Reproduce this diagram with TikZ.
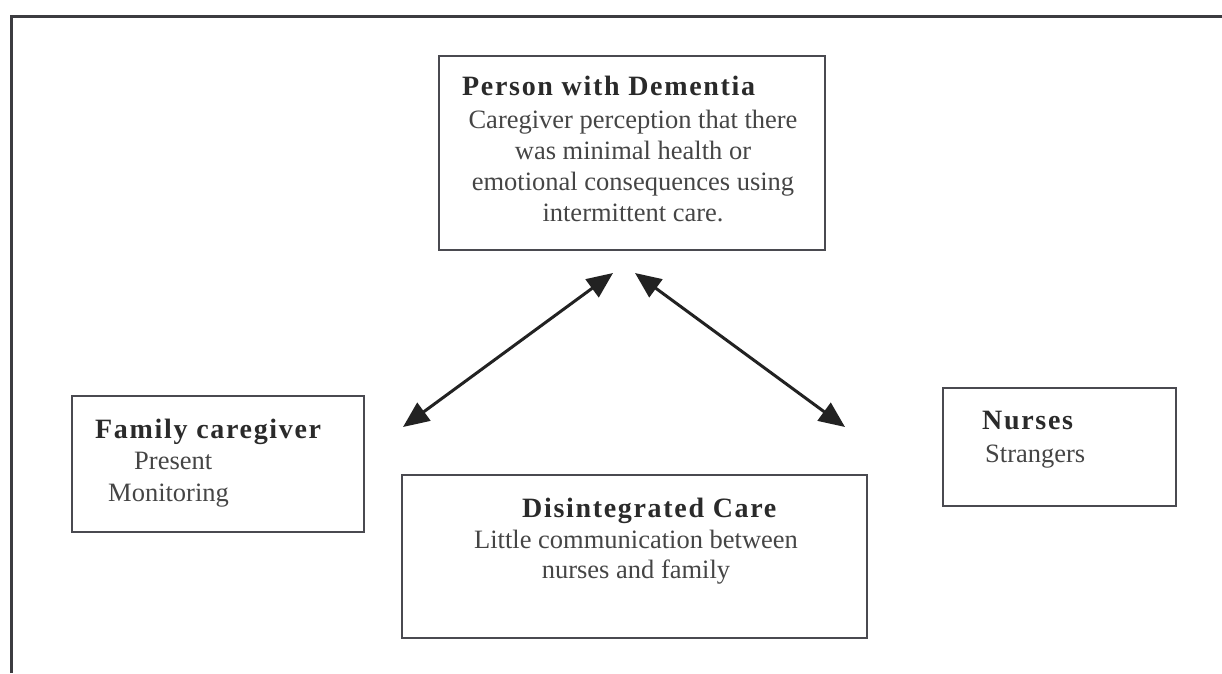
\documentclass[tikz,border=0pt]{standalone}
\usepackage{fontspec}
\setmainfont{Liberation Serif}
\usepackage{xcolor}
\usetikzlibrary{arrows.meta,positioning}

\definecolor{framegray}{HTML}{3C3C40}
\definecolor{boxgray}{HTML}{4A4A50}
\definecolor{headgray}{HTML}{2A2A2A}
\definecolor{bodygray}{HTML}{454545}
\definecolor{arrowgray}{HTML}{222222}

\tikzset{
  frame/.style={draw=framegray, line width=3pt},
  box/.style={draw=boxgray, line width=2.5pt, inner sep=0pt},
  head/.style={font=\fontsize{28}{30}\selectfont\bfseries\addfontfeature{LetterSpace=6}, text=headgray, inner sep=0pt},
  body/.style={font=\fontsize{26.5}{31}\selectfont, text=bodygray, inner sep=0pt},
  link/.style={line width=3pt, draw=arrowgray, fill=arrowgray,
    {Triangle[length=26pt,width=22pt]}-{Triangle[length=26pt,width=22pt]}},
}

\begin{document}
\begin{tikzpicture}[x=1pt, y=-1pt]
    \useasboundingbox (0,0) rectangle (1222,673);
    \draw [frame] (11,673) -- (11,16) -- (1222,16);

    % boxes
    \node [box, minimum width=386pt, minimum height=194pt] (pwd) at (632,153) {};
    \node [box, minimum width=292pt, minimum height=136pt] (fam) at (218,464) {};
    \node [box, minimum width=233pt, minimum height=118pt] (nur) at (1059.5,447) {};
    \node [box, minimum width=465pt, minimum height=163pt] (dis) at (634.5,556.5) {};

    % person with dementia
    \node [head, anchor=base west] (pwdTitle) at (462,95) {Person with Dementia};
    \node [body, anchor=base] (pwdL1) at (633,128) {Caregiver perception that there};
    \node [body, anchor=base] (pwdL2) at (633,159) {was minimal health or};
    \node [body, anchor=base] (pwdL3) at (633,190) {emotional consequences using};
    \node [body, anchor=base] (pwdL4) at (633,221) {intermittent care.};

    % family caregiver
    \node [head, anchor=base west] (famTitle) at (95,438) {Family caregiver};
    \node [body, anchor=base west] (famL1) at (134,469) {Present};
    \node [body, anchor=base west] (famL2) at (108,501) {Monitoring};

    % nurses
    \node [head, anchor=base west] (nurTitle) at (982,429) {Nurses};
    \node [body, anchor=base west] (nurL1) at (985,462) {Strangers};

    % disintegrated care
    \node [head, anchor=base west] (disTitle) at (522,517) {Disintegrated Care};
    \node [body, anchor=base] (disL1) at (636,548) {Little communication between};
    \node [body, anchor=base] (disL2) at (636,578) {nurses and family};

    % arrows
    \coordinate (famTip) at (403,427);
    \coordinate (pwdTipL) at (613,273);
    \coordinate (pwdTipR) at (635,273);
    \coordinate (nurTip) at (845,427);
    \draw [link] (famTip) -- (pwdTipL);
    \draw [link] (pwdTipR) -- (nurTip);
\end{tikzpicture}
\end{document}
